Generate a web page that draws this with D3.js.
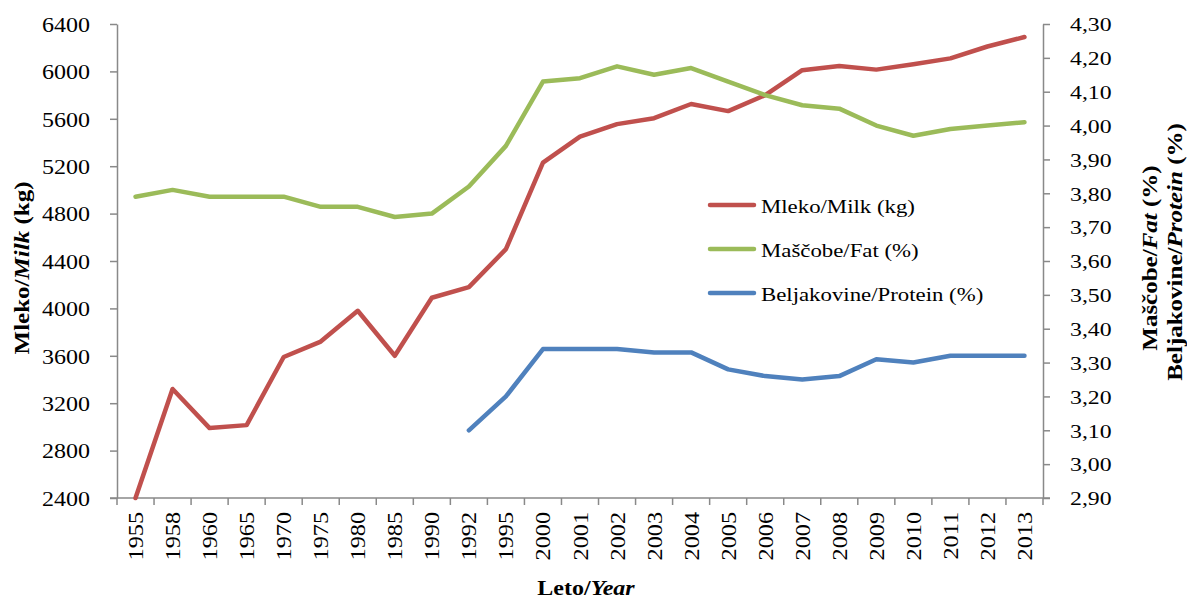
<!DOCTYPE html>
<html lang="en">
<head>
    <meta charset="UTF-8">
    <title>Mleko, maščobe, beljakovine</title>
    <script src="https://cdn.jsdelivr.net/npm/d3@7/dist/d3.min.js"></script>
    <style>
        body{ margin:0; background:#fff; }
        text{ font-family:"Liberation Serif","Times New Roman",serif; fill:#000; }
        .axis path, .axis line{ stroke:#898989; stroke-width:1.5; }
        .title{ font-weight:bold; font-size:20px; }
    </style>
</head>
<body>
<svg id="main" width="1187" height="600"></svg>
<script>
    // data
    let years = ['1955','1958','1960','1965','1970','1975','1980','1985','1990','1992','1995',
                 '2000','2001','2002','2003','2004','2005','2006','2007','2008','2009','2010',
                 '2011','2012','2013'];
    let milk = [2400, 3320, 2990, 3015, 3590, 3720, 3980, 3600, 4090, 4180, 4500,
                5230, 5450, 5555, 5605, 5725, 5665, 5800, 6010, 6045, 6015, 6060,
                6110, 6210, 6290];
    let fat = [3.79, 3.81, 3.79, 3.79, 3.79, 3.76, 3.76, 3.73, 3.74, 3.82, 3.94,
               4.13, 4.14, 4.175, 4.15, 4.17, 4.13, 4.09, 4.06, 4.05, 4.00, 3.97,
               3.99, 4.00, 4.01];
    let protein = [null, null, null, null, null, null, null, null, null, 3.10, 3.20,
                   3.34, 3.34, 3.34, 3.33, 3.33, 3.28, 3.26, 3.25, 3.26, 3.31, 3.30,
                   3.32, 3.32, 3.32];
    let milkTicks = [2400, 2800, 3200, 3600, 4000, 4400, 4800, 5200, 5600, 6000, 6400];
    let pctTicks = [2.9, 3.0, 3.1, 3.2, 3.3, 3.4, 3.5, 3.6, 3.7, 3.8, 3.9, 4.0, 4.1, 4.2, 4.3];
    let seriesNames = ['Mleko/Milk (kg)', 'Maščobe/Fat (%)', 'Beljakovine/Protein (%)'];
    let seriesColors = ['#c0504d', '#9bbb59', '#4f81bd'];

    let svg = d3.select('svg#main');
    let box = {left:117, right:1043, top:24, bottom:498};

    // the original text is a bit wider than the font, stretch it along its run
    function stretch(sel, k){
        sel.each(function(){
            let len = this.getComputedTextLength();
            d3.select(this).attr('textLength', len * k).attr('lengthAdjust', 'spacingAndGlyphs');
        });
    }

    let xScale = d3.scaleBand().domain(years).range([box.left, box.right]).padding(0);
    let yMilk = d3.scaleLinear().domain([2400, 6400]).range([box.bottom, box.top]);
    let yPct = d3.scaleLinear().domain([2.9, 4.3]).range([box.bottom, box.top]);
    let fmtPct = function(d){ return d3.format('.2f')(d).replace('.', ','); };

    // left axis
    let gl = svg.append('g').attr('class', 'axis')
        .attr('transform', 'translate(' + box.left + ',0)')
        .call(d3.axisLeft(yMilk).tickValues(milkTicks).tickFormat(d3.format('d'))
            .tickSize(7).tickSizeOuter(0).tickPadding(20));
    gl.selectAll('text').style('font-size', '20px').attr('dy', '0.36em');
    stretch(gl.selectAll('text'), 1.2);

    // right axis
    let gr = svg.append('g').attr('class', 'axis')
        .attr('transform', 'translate(' + box.right + ',0)')
        .call(d3.axisRight(yPct).tickValues(pctTicks).tickFormat(fmtPct).tickSize(7).tickSizeOuter(0).tickPadding(20));
    gr.selectAll('text').style('font-size', '19px').attr('dy', '0.36em');
    stretch(gr.selectAll('text'), 1.25);

    // bottom axis: labels at band centres, tick marks at band edges
    let gx = svg.append('g').attr('class', 'axis')
        .attr('transform', 'translate(0,' + box.bottom + ')')
        .call(d3.axisBottom(xScale).tickSize(0).tickSizeOuter(0));
    gx.select('path').attr('d', 'M' + (box.left - 7) + ',0H' + (box.right + 7));
    gx.selectAll('.tick text')
        .style('font-size', '22px')
        .attr('text-anchor', 'end')
        .attr('transform', 'rotate(-90)')
        .attr('x', -14).attr('y', 7.5).attr('dy', 0);
    stretch(gx.selectAll('.tick text'), 1.1);
    gx.selectAll('line.edge')
        .data(years.concat(['end']))
        .enter()
        .append('line')
        .attr('class', 'edge')
        .attr('x1', function(d, i){ return box.left + i * xScale.bandwidth(); })
        .attr('x2', function(d, i){ return box.left + i * xScale.bandwidth(); })
        .attr('y1', 0).attr('y2', 7);

    // lines
    let lineMilk = d3.line()
        .x(function(d, i){ return xScale(years[i]) + xScale.bandwidth() / 2; })
        .y(function(d){ return yMilk(d); });
    let linePct = d3.line()
        .defined(function(d){ return d != null; })
        .x(function(d, i){ return xScale(years[i]) + xScale.bandwidth() / 2; })
        .y(function(d){ return yPct(d); });

    let seriesData = [milk, fat, protein];
    svg.selectAll('path.series')
        .data(seriesData)
        .enter()
        .append('path')
        .attr('class', 'series')
        .attr('fill', 'none')
        .attr('stroke', function(d, i){ return seriesColors[i]; })
        .attr('stroke-width', 4.5)
        .attr('stroke-linejoin', 'round')
        .attr('stroke-linecap', 'round')
        .attr('d', function(d, i){ return i == 0 ? lineMilk(d) : linePct(d); });

    // legend
    let legend = svg.append('g').attr('transform', 'translate(708,205)');
    let rows = legend.selectAll('g')
        .data(seriesNames)
        .enter()
        .append('g')
        .attr('transform', function(d, i){ return 'translate(0,' + (i * 44) + ')'; });
    rows.append('line')
        .attr('x1', 2).attr('x2', 46).attr('y1', 0).attr('y2', 0)
        .attr('stroke', function(d, i){ return seriesColors[i]; })
        .attr('stroke-width', 4.5)
        .attr('stroke-linecap', 'round');
    let legTexts = rows.append('text')
        .attr('x', 53).attr('y', 8)
        .style('font-size', '19px')
        .text(function(d){ return d; });
    stretch(legTexts, 1.2);

    // axis titles
    let tx = svg.append('text').attr('class', 'title')
        .attr('x', 586).attr('y', 595)
        .attr('text-anchor', 'middle');
    tx.append('tspan').text('Leto/');
    tx.append('tspan').style('font-style', 'italic').text('Year');
    stretch(tx, 1.2);

    let tl = svg.append('text').attr('class', 'title')
        .attr('transform', 'translate(29,268) rotate(-90)')
        .attr('text-anchor', 'middle');
    tl.append('tspan').text('Mleko/');
    tl.append('tspan').style('font-style', 'italic').text('Milk');
    tl.append('tspan').text(' (kg)');
    stretch(tl, 1.25);

    let tr1 = svg.append('text').attr('class', 'title')
        .attr('transform', 'translate(1157,258) rotate(-90)')
        .attr('text-anchor', 'middle');
    tr1.append('tspan').text('Maščobe/');
    tr1.append('tspan').style('font-style', 'italic').text('Fat');
    tr1.append('tspan').text('  (%)');
    stretch(tr1, 1.25);

    let tr2 = svg.append('text').attr('class', 'title')
        .attr('transform', 'translate(1182,252) rotate(-90)')
        .attr('text-anchor', 'middle');
    tr2.append('tspan').text('Beljakovine/');
    tr2.append('tspan').style('font-style', 'italic').text('Protein');
    tr2.append('tspan').text('  (%)');
    stretch(tr2, 1.25);
</script>
</body>
</html>
